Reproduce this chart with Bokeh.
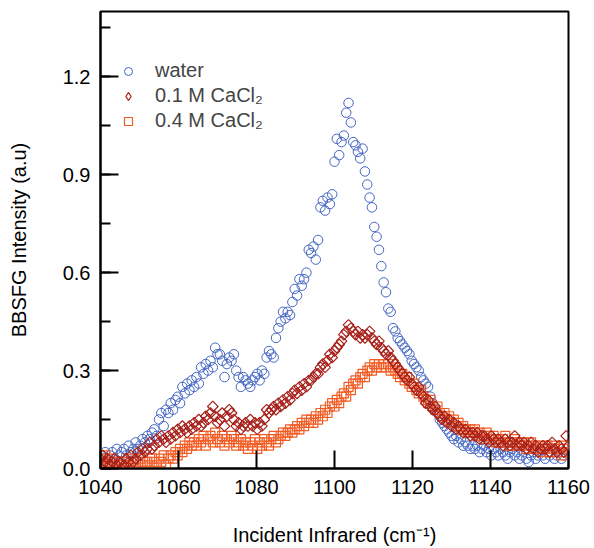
import math
from bokeh.plotting import figure
from bokeh.models import (Range1d, SingleIntervalTicker, PrintfTickFormatter, Legend,
                          LegendItem)
from bokeh.embed import file_html
from bokeh.resources import INLINE

# x grid of the spectra (cm^-1)
x_start, x_step, n_pts = 1040.0, 0.6, 201
wavenumber = [round(x_start + x_step * i, 1) for i in range(n_pts)]

water = [
    0.04, 0.03, 0.05, 0.02, 0.04, 0.05, 0.03, 0.06, 0.04, 0.05,
    0.06, 0.04, 0.07, 0.05, 0.06, 0.08, 0.06, 0.07, 0.09, 0.08,
    0.10, 0.09, 0.11, 0.12, 0.10, 0.15, 0.17, 0.13, 0.18, 0.17,
    0.20, 0.18, 0.21, 0.22, 0.20, 0.25, 0.23, 0.26, 0.24, 0.27,
    0.25, 0.28, 0.26, 0.31, 0.29, 0.32, 0.30, 0.33, 0.31, 0.37,
    0.35, 0.35, 0.33, 0.28, 0.32, 0.34, 0.33, 0.35, 0.30, 0.28,
    0.25, 0.28, 0.27, 0.26, 0.25, 0.27, 0.28, 0.29, 0.27, 0.30,
    0.29, 0.34, 0.36, 0.35, 0.34, 0.40, 0.43, 0.45, 0.48, 0.46,
    0.48, 0.47, 0.51, 0.55, 0.53, 0.58, 0.56, 0.58, 0.60, 0.67,
    0.66, 0.68, 0.64, 0.70, 0.80, 0.82, 0.79, 0.83, 0.81, 0.84,
    0.94, 1.01, 0.96, 1.00, 1.02, 1.09, 1.12, 1.06, 1.00, 0.99,
    0.97, 0.95, 0.98, 0.91, 0.87, 0.83, 0.80, 0.74, 0.71, 0.67,
    0.62, 0.57, 0.54, 0.49, 0.48, 0.43, 0.42, 0.40, 0.39, 0.38,
    0.37, 0.36, 0.35, 0.33, 0.32, 0.31, 0.30, 0.28, 0.27, 0.26,
    0.25, 0.22, 0.20, 0.18, 0.17, 0.15, 0.14, 0.13, 0.12, 0.11,
    0.10, 0.09, 0.10, 0.08, 0.09, 0.07, 0.08, 0.07, 0.06, 0.07,
    0.06, 0.07, 0.05, 0.06, 0.07, 0.05, 0.06, 0.04, 0.06, 0.05,
    0.04, 0.06, 0.05, 0.04, 0.03, 0.05, 0.06, 0.04, 0.05, 0.03,
    0.04, 0.05, 0.03, 0.02, 0.04, 0.05, 0.03, 0.04, 0.06, 0.04,
    0.03, 0.05, 0.04, 0.06, 0.03, 0.04, 0.05, 0.03, 0.04, 0.06,
    0.05,
]

cacl2_01 = [
    0.03, 0.04, 0.02, 0.03, 0.01, 0.02, 0.03, 0.01, 0.02, 0.00,
    0.01, 0.03, 0.02, 0.04, 0.02, 0.03, 0.05, 0.04, 0.06, 0.05,
    0.06, 0.08, 0.06, 0.07, 0.09, 0.08, 0.10, 0.09, 0.08, 0.10,
    0.09, 0.11, 0.10, 0.12, 0.11, 0.13, 0.12, 0.11, 0.13, 0.12,
    0.14, 0.13, 0.15, 0.13, 0.14, 0.16, 0.15, 0.17, 0.19, 0.16,
    0.14, 0.15, 0.17, 0.13, 0.16, 0.18, 0.17, 0.15, 0.13, 0.14,
    0.12, 0.13, 0.14, 0.13, 0.15, 0.13, 0.14, 0.12, 0.14, 0.13,
    0.15, 0.18, 0.17, 0.18, 0.19, 0.18, 0.20, 0.19, 0.21, 0.20,
    0.22, 0.21, 0.23, 0.24, 0.23, 0.25, 0.24, 0.26, 0.25, 0.27,
    0.27, 0.28, 0.29, 0.29, 0.31, 0.32, 0.31, 0.33, 0.35, 0.34,
    0.36, 0.37, 0.38, 0.39, 0.41, 0.42, 0.44, 0.43, 0.42, 0.41,
    0.42, 0.40, 0.41, 0.40, 0.41, 0.42, 0.40, 0.39, 0.38, 0.39,
    0.37, 0.36, 0.35, 0.36, 0.34, 0.33, 0.32, 0.31, 0.30, 0.29,
    0.28, 0.27, 0.28, 0.26, 0.25, 0.24, 0.25, 0.23, 0.22, 0.20,
    0.21, 0.19, 0.18, 0.19, 0.17, 0.16, 0.15, 0.16, 0.14, 0.15,
    0.13, 0.14, 0.12, 0.13, 0.12, 0.11, 0.12, 0.11, 0.10, 0.11,
    0.10, 0.11, 0.09, 0.10, 0.10, 0.09, 0.08, 0.10, 0.09, 0.08,
    0.09, 0.08, 0.07, 0.09, 0.08, 0.07, 0.08, 0.10, 0.07, 0.08,
    0.07, 0.08, 0.06, 0.07, 0.08, 0.06, 0.07, 0.05, 0.06, 0.07,
    0.06, 0.07, 0.05, 0.08, 0.06, 0.05, 0.07, 0.06, 0.05, 0.10,
    0.07,
]

cacl2_04 = [
    0.03, 0.02, 0.04, 0.01, 0.02, 0.03, 0.01, 0.02, 0.00, 0.01,
    0.02, 0.01, 0.03, 0.01, 0.02, 0.00, 0.02, 0.03, 0.01, 0.02,
    0.02, 0.01, 0.03, 0.02, 0.01, 0.03, 0.02, 0.04, 0.01, 0.03,
    0.04, 0.03, 0.05, 0.04, 0.06, 0.05, 0.07, 0.06, 0.08, 0.07,
    0.08, 0.07, 0.09, 0.08, 0.10, 0.07, 0.09, 0.10, 0.08, 0.11,
    0.09, 0.08, 0.10, 0.07, 0.09, 0.08, 0.10, 0.09, 0.07, 0.08,
    0.09, 0.07, 0.08, 0.06, 0.08, 0.07, 0.09, 0.06, 0.08, 0.07,
    0.09, 0.08, 0.07, 0.09, 0.10, 0.08, 0.09, 0.10, 0.11, 0.10,
    0.11, 0.12, 0.11, 0.12, 0.13, 0.12, 0.14, 0.13, 0.15, 0.14,
    0.15, 0.14, 0.16, 0.15, 0.17, 0.16, 0.18, 0.17, 0.19, 0.20,
    0.19, 0.21, 0.20, 0.22, 0.23, 0.22, 0.25, 0.24, 0.26, 0.27,
    0.26, 0.28, 0.29, 0.28, 0.30, 0.31, 0.30, 0.32, 0.31, 0.32,
    0.31, 0.32, 0.31, 0.32, 0.30, 0.31, 0.30, 0.29, 0.28, 0.29,
    0.27, 0.28, 0.26, 0.25, 0.26, 0.24, 0.23, 0.24, 0.22, 0.21,
    0.20, 0.21, 0.19, 0.18, 0.19, 0.17, 0.16, 0.17, 0.15, 0.16,
    0.14, 0.15, 0.13, 0.14, 0.12, 0.13, 0.12, 0.11, 0.12, 0.11,
    0.12, 0.10, 0.11, 0.10, 0.09, 0.11, 0.10, 0.09, 0.10, 0.08,
    0.09, 0.08, 0.09, 0.10, 0.08, 0.07, 0.08, 0.09, 0.07, 0.08,
    0.07, 0.08, 0.06, 0.07, 0.08, 0.06, 0.07, 0.06, 0.07, 0.05,
    0.06, 0.07, 0.05, 0.06, 0.07, 0.05, 0.06, 0.04, 0.07, 0.05,
    0.06,
]

labels = ["water", "0.1 M CaCl\u2082", "0.4 M CaCl\u2082"]
colors = ["#4466c4", "#a8221c", "#f25c24"]
x_title = "Incident Infrared (cm\u207b\u00b9)"
y_title = "BBSFG Intensity (a.u)"

FONT = "Liberation Sans"

p = figure(width=594, height=548, output_backend="svg", toolbar_location=None,
           x_range=Range1d(1040, 1160), y_range=Range1d(0, 1.4),
           min_border_left=100, min_border_right=26, min_border_top=11, min_border_bottom=80)

p.xgrid.visible = False
p.ygrid.visible = False
p.outline_line_color = "black"
p.outline_line_width = 2
p.background_fill_color = "white"
p.border_fill_color = "white"

r_w = p.scatter(wavenumber, water, marker="circle", size=9.5, fill_color=None,
                line_color=colors[0], line_width=1)
r_4 = p.scatter(wavenumber, cacl2_04, marker="square", size=9, fill_color=None,
                line_color=colors[2], line_width=1.2)
r_1 = p.scatter(wavenumber, cacl2_01, marker="square", angle=math.pi / 4, size=7.5,
                fill_color=None, line_color=colors[1], line_width=1.2)
# hidden twin of the 0.1 M series, used only for its diamond legend swatch
r_1_key = p.scatter(wavenumber, cacl2_01, marker="diamond", fill_color=None,
                    line_color=colors[1], line_width=1.3, visible=False)

p.xaxis.ticker = SingleIntervalTicker(interval=20, num_minor_ticks=0)
p.yaxis.ticker = SingleIntervalTicker(interval=0.3, num_minor_ticks=2)
p.yaxis.formatter = PrintfTickFormatter(format="%.1f")

for ax in (p.xaxis[0], p.yaxis[0]):
    ax.axis_line_width = 2
    ax.axis_line_color = "black"
    ax.major_tick_in = 18
    ax.major_tick_out = 0
    ax.major_tick_line_width = 2
    ax.minor_tick_in = 10
    ax.minor_tick_out = 0
    ax.minor_tick_line_width = 2
    ax.major_label_text_font = FONT
    ax.major_label_text_font_size = "20px"
    ax.major_label_text_color = "black"
    ax.axis_label_text_font = FONT
    ax.axis_label_text_font_size = "20px"
    ax.axis_label_text_font_style = "normal"
    ax.axis_label_text_color = "black"

p.xaxis.axis_label = x_title
p.yaxis.axis_label = y_title
p.xaxis.major_label_standoff = 11
p.yaxis.major_label_standoff = 10
p.xaxis.axis_label_standoff = 27
p.yaxis.axis_label_standoff = 30

legend = Legend(items=[LegendItem(label=labels[0], renderers=[r_w]),
                       LegendItem(label=labels[1], renderers=[r_1_key]),
                       LegendItem(label=labels[2], renderers=[r_4])],
                location=(18, 336), padding=0, spacing=2,
                glyph_width=20, glyph_height=20, label_height=20,
                label_standoff=17, border_line_color=None,
                background_fill_alpha=0, inactive_fill_alpha=0,
                label_text_font=FONT, label_text_font_size="20px")
p.add_layout(legend)

open("out.html", "w").write(file_html(p, INLINE))
